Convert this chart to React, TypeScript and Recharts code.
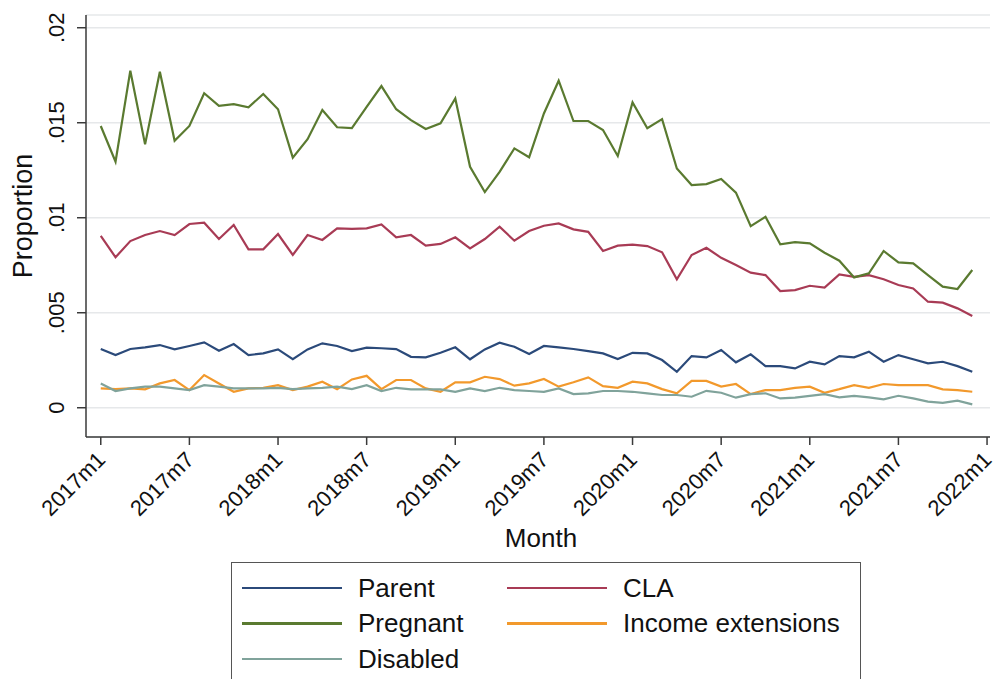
import React from 'react';
import { LineChart, Line, XAxis, YAxis, CartesianGrid } from 'recharts';

// Month index 0 = 2017m1 ... 59 = 2021m12
const monthIndex: number[] = Array.from({ length: 60 }, (_, i) => i);

const xTickValues = [0, 6, 12, 18, 24, 30, 36, 42, 48, 54, 60];
const xTickLabels = ['2017m1', '2017m7', '2018m1', '2018m7', '2019m1', '2019m7', '2020m1', '2020m7', '2021m1', '2021m7', '2022m1'];
const yTickValues = [0, 0.005, 0.01, 0.015, 0.02];
const yTickLabels = ['0', '.005', '.01', '.015', '.02'];

const parent = [
  0.00309, 0.00277, 0.00309, 0.00318, 0.0033, 0.00307, 0.00325, 0.00344, 0.003, 0.00335,
  0.00277, 0.00286, 0.00307, 0.00256, 0.00307, 0.00339, 0.00325, 0.00298, 0.00316, 0.00313,
  0.00309, 0.00268, 0.00265, 0.00289, 0.00318, 0.00255, 0.00307, 0.00342, 0.00321, 0.00283,
  0.00325, 0.00318, 0.00309, 0.00298, 0.00286, 0.00256, 0.00289, 0.00286, 0.00251, 0.00189,
  0.00272, 0.00265, 0.00304, 0.00239, 0.00281, 0.00219, 0.00219, 0.00207, 0.00242, 0.00228,
  0.00272, 0.00265, 0.00295, 0.00242, 0.00277, 0.00255, 0.00234, 0.00242, 0.00219, 0.00189,
];

const cla = [
  0.00904, 0.00792, 0.00877, 0.00909, 0.0093, 0.00909, 0.00967, 0.00974, 0.00888, 0.00962,
  0.00834, 0.00834, 0.00914, 0.00804, 0.00909, 0.00883, 0.00944, 0.00941, 0.00944, 0.00965,
  0.00897, 0.00909, 0.00853, 0.00862, 0.00897, 0.00839, 0.00888, 0.00953, 0.00879, 0.0093,
  0.00958, 0.0097, 0.00939, 0.00926, 0.00825, 0.00853, 0.00858, 0.00851, 0.00818, 0.00676,
  0.00804, 0.00842, 0.00789, 0.00751, 0.00711, 0.00698, 0.00614, 0.00619, 0.00642, 0.00632,
  0.00702, 0.00689, 0.00698, 0.00676, 0.00646, 0.00628, 0.00558, 0.00553, 0.00523, 0.00483,
];

const pregnant = [
  0.01483, 0.01295, 0.01774, 0.01386, 0.01768, 0.01405, 0.01483, 0.01655, 0.01589, 0.01598,
  0.01581, 0.01651, 0.01571, 0.01316, 0.01413, 0.01567, 0.01476, 0.01472, 0.01584, 0.01693,
  0.01571, 0.01514, 0.01467, 0.01497, 0.01628, 0.01268, 0.01135, 0.01241, 0.01365, 0.01318,
  0.01549, 0.01721, 0.01509, 0.01509, 0.01462, 0.01325, 0.01607, 0.01471, 0.01519, 0.01259,
  0.01172, 0.01177, 0.01204, 0.01132, 0.00956, 0.01005, 0.0086, 0.00872, 0.00865, 0.00816,
  0.00774, 0.00686, 0.00707, 0.00825, 0.00765, 0.0076, 0.00698, 0.00637, 0.00625, 0.00725,
];

const incomeExt = [
  0.00102, 0.00098, 0.00102, 0.00097, 0.00128, 0.00146, 0.00093, 0.00172, 0.00128, 0.00084,
  0.00102, 0.00105, 0.00119, 0.00093, 0.00111, 0.00137, 0.00098, 0.00149, 0.00168, 0.00098,
  0.00146, 0.00146, 0.00102, 0.00084, 0.00134, 0.00134, 0.00163, 0.00151, 0.00116, 0.00128,
  0.00151, 0.00111, 0.00134, 0.0016, 0.00114, 0.00105, 0.00137, 0.00128, 0.00098, 0.00076,
  0.00141, 0.00141, 0.00111, 0.00125, 0.00072, 0.00093, 0.00093, 0.00105, 0.00111, 0.00079,
  0.00098, 0.00119, 0.00105, 0.00125, 0.00119, 0.00119, 0.00119, 0.00097, 0.00093, 0.00084,
];

const disabled = [
  0.00128, 0.00088, 0.00102, 0.00111, 0.00111, 0.00102, 0.00093, 0.00119, 0.00111, 0.00102,
  0.00102, 0.00102, 0.00105, 0.00098, 0.00102, 0.00105, 0.00111, 0.00098, 0.00119, 0.00088,
  0.00105, 0.00097, 0.00097, 0.00097, 0.00084, 0.00102, 0.00088, 0.00105, 0.00093, 0.00088,
  0.00084, 0.00102, 0.00072, 0.00076, 0.00088, 0.00088, 0.00084, 0.00076, 0.00067, 0.00067,
  0.00058, 0.00089, 0.00079, 0.00053, 0.00072, 0.00076, 0.00049, 0.00053, 0.00062, 0.00072,
  0.00055, 0.00062, 0.00055, 0.00044, 0.00063, 0.00049, 0.00032, 0.00026, 0.00037, 0.00018,
];

const seriesNames = ['Parent', 'CLA', 'Pregnant', 'Income extensions', 'Disabled'];
const seriesKeys = ['parent', 'cla', 'pregnant', 'incomeExt', 'disabled'];
const seriesColors = ['#2b4a7a', '#a83b55', '#5a7a30', '#f2992c', '#80a39b'];

const rows = monthIndex.map((i) => ({
  i,
  parent: parent[i],
  cla: cla[i],
  pregnant: pregnant[i],
  incomeExt: incomeExt[i],
  disabled: disabled[i],
}));

const FONT = '"Liberation Sans", Arial, sans-serif';
const AXIS_COLOR = '#3a3a3a';

const XTick = (props: any) => {
  const { x, y, payload } = props;
  const idx = xTickValues.indexOf(payload.value);
  const label = idx >= 0 ? xTickLabels[idx] : '';
  const ax = x + 6;
  const ay = y + 14;
  return (
    <text
      x={ax}
      y={ay}
      transform={`rotate(-45, ${ax}, ${ay})`}
      textAnchor="end"
      fontSize={22}
      fontFamily={FONT}
      fill="#111"
    >
      {label}
    </text>
  );
};

const YTick = (props: any) => {
  const { y, payload } = props;
  const idx = yTickValues.indexOf(payload.value);
  const label = idx >= 0 ? yTickLabels[idx] : '';
  const ax = 64;
  return (
    <text
      x={ax}
      y={y}
      transform={`rotate(-90, ${ax}, ${y})`}
      textAnchor="middle"
      fontSize={22}
      fontFamily={FONT}
      fill="#111"
    >
      {label}
    </text>
  );
};

const legendLayout = [
  { col: 0, row: 0 },
  { col: 1, row: 0 },
  { col: 0, row: 1 },
  { col: 1, row: 1 },
  { col: 0, row: 2 },
];

export default function App() {
  return (
    <div style={{ position: 'absolute', left: 0, top: 0, width: 1000, height: 679, overflow: 'hidden', background: '#fff' }}>
      <LineChart width={1000} height={679} data={rows} margin={{ top: 15, right: 10, left: 0, bottom: 152 }}>
        <CartesianGrid horizontal vertical={false} stroke="#e6e8ea" strokeWidth={1.5} />
        <XAxis
          dataKey="i"
          type="number"
          domain={[-1, 60.2]}
          allowDataOverflow
          ticks={xTickValues}
          interval={0}
          height={90}
          tick={<XTick />}
          tickSize={8}
          axisLine={{ stroke: AXIS_COLOR, strokeWidth: 1.5 }}
          tickLine={{ stroke: AXIS_COLOR, strokeWidth: 1.5 }}
          label={{
            content: (p: any) => {
              const vb = p.viewBox;
              return (
                <text x={vb.x + vb.width / 2 + 3} y={vb.y + 110} textAnchor="middle" fontSize={26} fontFamily={FONT} fill="#111">
                  Month
                </text>
              );
            },
          }}
        />
        <YAxis
          type="number"
          domain={[-0.00154, 0.02067]}
          allowDataOverflow
          ticks={yTickValues}
          interval={0}
          width={86}
          tick={<YTick />}
          tickSize={9}
          axisLine={{ stroke: AXIS_COLOR, strokeWidth: 1.5 }}
          tickLine={{ stroke: AXIS_COLOR, strokeWidth: 1.5 }}
          label={{
            content: () => (
              <text x={32} y={216} transform="rotate(-90, 32, 216)" textAnchor="middle" fontSize={27} fontFamily={FONT} fill="#111">
                Proportion
              </text>
            ),
          }}
        />
        {seriesKeys.map((k, j) => (
          <Line
            key={k}
            dataKey={k}
            name={seriesNames[j]}
            stroke={seriesColors[j]}
            strokeWidth={2.2}
            dot={false}
            activeDot={false}
            isAnimationActive={false}
            type="linear"
          />
        ))}
      </LineChart>
      <div
        style={{
          position: 'absolute',
          left: 231,
          top: 562,
          width: 630,
          height: 130,
          border: '1.5px solid #555',
          boxSizing: 'border-box',
        }}
      >
        {seriesNames.map((name, j) => {
          const pos = legendLayout[j];
          const left = pos.col === 0 ? 10 : 275;
          const top = 25 + pos.row * 35.5;
          return (
            <div key={name} style={{ position: 'absolute', left, top: top - 16, height: 32, display: 'flex', alignItems: 'center' }}>
              <div style={{ width: 100, height: 2.5, background: seriesColors[j] }} />
              <div style={{ marginLeft: 16, fontFamily: FONT, fontSize: 26, color: '#111', whiteSpace: 'nowrap' }}>{name}</div>
            </div>
          );
        })}
      </div>
    </div>
  );
}
